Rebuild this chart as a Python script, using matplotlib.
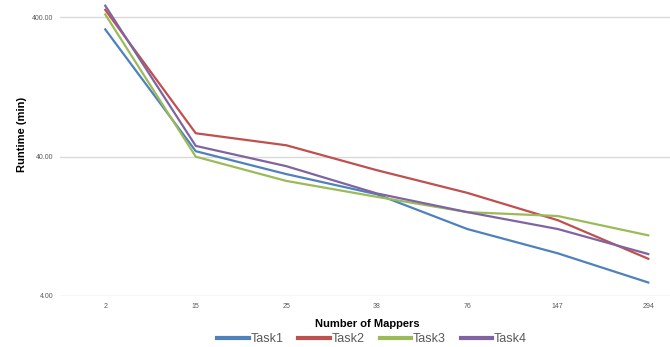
import matplotlib
matplotlib.use('Agg')
import matplotlib.pyplot as plt
from matplotlib.ticker import FixedLocator, NullLocator

plt.rcParams['font.family'] = ['Liberation Sans', 'DejaVu Sans']

mappers = ['2', '15', '25', '38', '76', '147', '294']
task1 = [328, 43.8, 30.0, 21.5, 12.1, 8.1, 5.0]
task2 = [453, 58.9, 48.3, 32.0, 22.0, 14.0, 7.4]
task3 = [420, 40.0, 26.8, 20.6, 16.0, 15.0, 10.9]
task4 = [485, 47.8, 34.2, 21.8, 16.0, 12.1, 8.0]
y_ticks = [4, 40, 400]

series = [('Task1', task1, '#4F81BD'), ('Task2', task2, '#C0504D'),
          ('Task3', task3, '#9BBB59'), ('Task4', task4, '#8064A2')]

fig = plt.figure(figsize=(6.7, 3.47), dpi=100)
ax = fig.add_axes([60/670, 1 - 296/347, 610/670, 296/347])

x = list(range(len(mappers)))
for name, vals, col in series:
    ax.plot(x, vals, color=col, lw=1.6, label=name)

ax.set_yscale('log')
ax.set_ylim(4, 533)
ax.set_xlim(-0.5, 6.24)
ax.yaxis.set_major_locator(FixedLocator(y_ticks))
ax.yaxis.set_minor_locator(NullLocator())
ax.set_yticklabels([f'{v:.2f}' for v in y_ticks])
ax.set_xticks(x)
ax.set_xticklabels(mappers)
ax.tick_params(length=0, labelsize=5, colors='#595959', pad=5)
ax.tick_params(axis='y', pad=5)
ax.grid(axis='y', color='#d9d9d9', lw=1)
ax.set_axisbelow(True)
for s in ax.spines.values():
    s.set_visible(False)

fig.text(22/670, 1 - 134/347, 'Runtime (min)', rotation=90, ha='center', va='center',
         fontsize=8, fontweight='bold')
fig.text(367/670, 1 - 324/347, 'Number of Mappers', ha='center', va='center',
         fontsize=8, fontweight='bold')

fig.legend(loc='center', bbox_to_anchor=(372/670, 1 - 339/347), ncol=4, frameon=False,
           fontsize=9, handlelength=2.5, handletextpad=0.15, columnspacing=1.2,
           labelcolor='#595959')
for line in fig.legends[0].get_lines():
    line.set_linewidth(3)

fig.savefig('out.png', dpi=100)
